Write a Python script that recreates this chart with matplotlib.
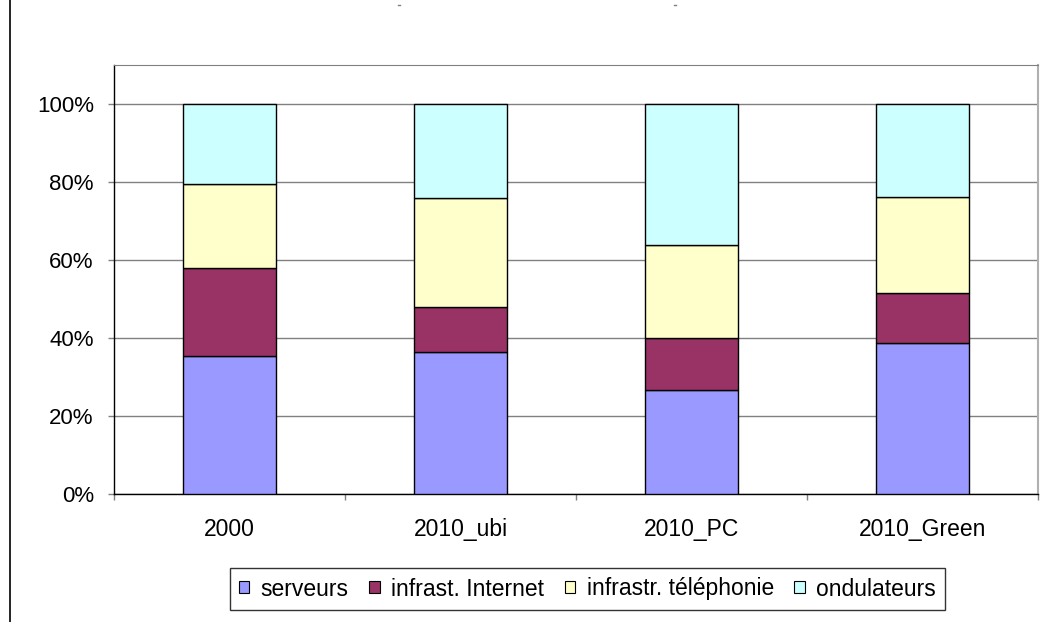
import numpy as np
import matplotlib
matplotlib.use('Agg')
import matplotlib.pyplot as plt
import matplotlib.ticker as mticker
from matplotlib.lines import Line2D

plt.rcParams['font.family'] = ['Liberation Sans', 'DejaVu Sans']

# ── Data (share of total) ────────────────────────────────────────────────────
scenarios   = ['2000', '2010_ubi', '2010_PC', '2010_Green']
serveurs    = [0.354, 0.364, 0.267, 0.387]
internet    = [0.226, 0.115, 0.133, 0.129]
telephonie  = [0.216, 0.280, 0.239, 0.247]
ondulateurs = [0.204, 0.241, 0.361, 0.237]

series = [
    ('serveurs', serveurs, '#9999FF'),
    ('infrast. Internet', internet, '#993366'),
    ('infrastr. téléphonie', telephonie, '#FFFFCC'),
    ('ondulateurs', ondulateurs, '#CCFFFF'),
]

W, H = 1051, 622
fig = plt.figure(figsize=(W / 100, H / 100), dpi=100)
ax = fig.add_axes([114 / W, 1 - 494 / H, (1038 - 114) / W, (494 - 65.5) / H])

x = np.arange(len(scenarios))
bottom = np.zeros(len(scenarios))
for name, vals, col in series:
    ax.bar(x, vals, width=0.40, bottom=bottom, color=col, edgecolor='black',
           linewidth=1.0, label=name, zorder=3)
    bottom += np.array(vals)

ax.set_xlim(-0.5, len(scenarios) - 0.5)
ax.set_ylim(0, 1.10)

# y axis: ticks every 20 %, gridlines
ax.yaxis.set_major_locator(mticker.FixedLocator(np.arange(0, 1.01, 0.2)))
ax.yaxis.set_major_formatter(mticker.FuncFormatter(lambda v, p: f'{v * 100:.0f}%'))
ax.grid(axis='y', color='#808080', linewidth=1.0, zorder=0)
ax.tick_params(axis='y', direction='out', length=4.5, width=1, color='#808080',
               labelsize=16, pad=10)

# x axis: labels centred, tick marks between categories
ax.set_xticks(x)
ax.set_xticklabels(scenarios)
ax.set_xticks(np.arange(-0.5, len(scenarios)), minor=True)
ax.tick_params(axis='x', which='major', length=0, labelsize=16.5, pad=17)
ax.tick_params(axis='x', which='minor', direction='out', length=4.5, width=1,
               color='#808080')

for side in ['left', 'bottom']:
    ax.spines[side].set_color('black')
    ax.spines[side].set_linewidth(1.0)
ax.spines['top'].set_color('#808080')
ax.spines['right'].set_color('#b0b0b0')
ax.spines['right'].set_linewidth(1.5)

leg = ax.legend(loc='center', bbox_to_anchor=(587.5 / W, 1 - 589 / H),
                bbox_transform=fig.transFigure, ncol=4, fontsize=16.5,
                frameon=True, fancybox=False, shadow=False, borderpad=0.4,
                handlelength=0.45, handleheight=0.45, handletextpad=0.5,
                columnspacing=0.9, borderaxespad=0)
leg.get_frame().set_edgecolor('black')
leg.get_frame().set_linewidth(1.0)
for h in leg.legend_handles:
    h.set_linewidth(0.8)

# stray decorations from the source image
fig.add_artist(Line2D([10 / W, 10 / W], [0, 1], color='black', linewidth=1.2))
for px in [399, 675]:
    fig.add_artist(Line2D([(px - 1) / W, (px + 1) / W], [1 - 5 / H, 1 - 5 / H],
                          color='#808080', linewidth=1))

fig.savefig('out.png', dpi=100)
